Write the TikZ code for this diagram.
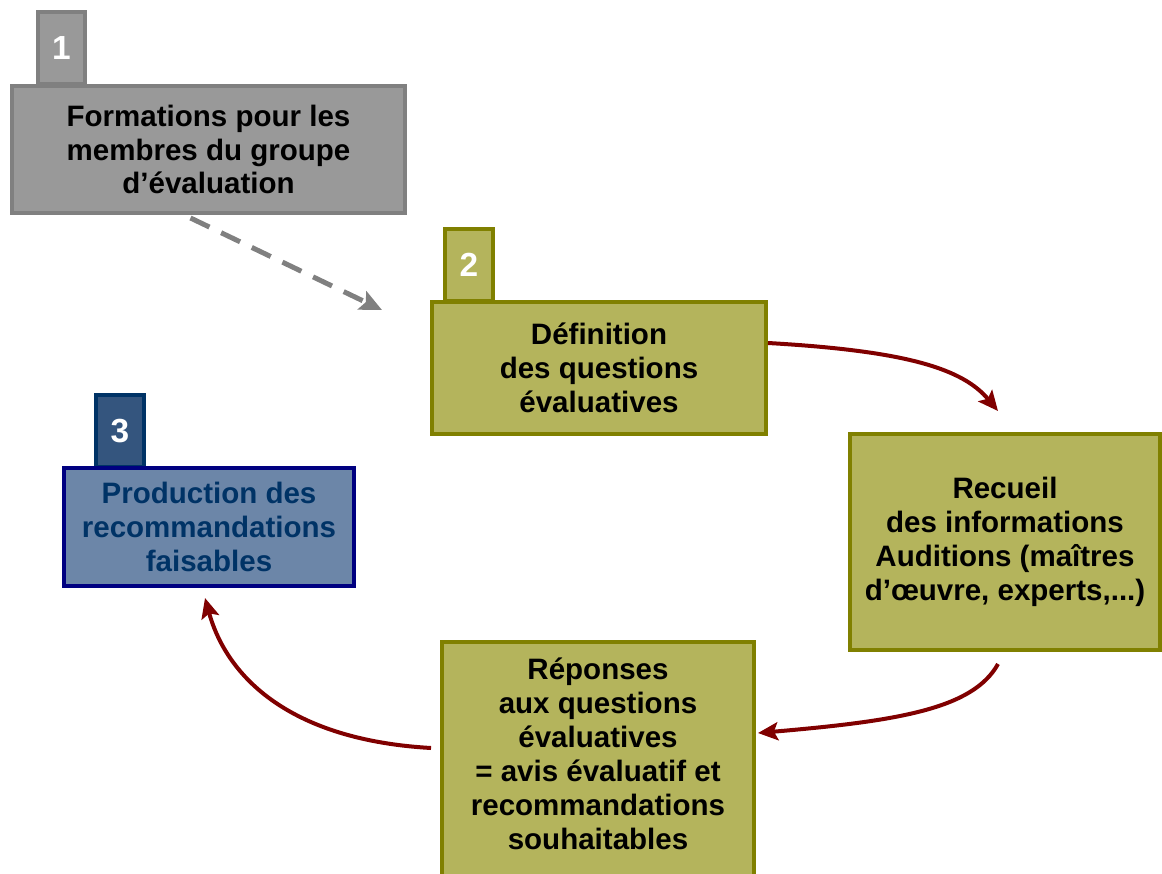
\documentclass[tikz,border=0pt]{standalone}
\usepackage{fontspec}
\setmainfont{Liberation Sans}
\usepackage{tikz}
\usepackage{xcolor}
\usetikzlibrary{arrows.meta}
\usetikzlibrary{positioning}

\definecolor{grayfill}{HTML}{999999}
\definecolor{grayline}{HTML}{808080}
\definecolor{olivefill}{HTML}{B4B45C}
\definecolor{oliveline}{HTML}{808000}
\definecolor{bluefill}{HTML}{6C86A8}
\definecolor{bluetab}{HTML}{34557E}
\definecolor{blueline}{HTML}{000080}
\definecolor{bluetext}{HTML}{003366}
\definecolor{flowred}{HTML}{800000}

\newcommand{\boxfont}{\fontsize{16.8}{19.3}\selectfont\bfseries}
\newcommand{\tabfont}{\fontsize{19}{20}\selectfont\bfseries}

\tikzset{
    stepbox/.style={draw, line width=0.08cm, align=center, inner sep=0pt, font=\boxfont},
    tabbox/.style={draw, line width=0.08cm, inner sep=0pt, text=white, font=\tabfont,
        minimum width=0.96cm, minimum height=1.44cm},
    flow/.style={draw=flowred, line width=0.08cm,
        -{Stealth[length=0.4cm, width=0.36cm, inset=0.08cm]}},
    dashflow/.style={draw=grayline, line width=0.1cm, dash pattern=on 0.42cm off 0.26cm,
        -{Stealth[length=0.44cm, width=0.4cm, inset=0.08cm]}}
}

\begin{document}
\begin{tikzpicture}[x=0.02cm, y=-0.02cm]
    \useasboundingbox (0,0) rectangle (1162,874);

    % step 1
    \node[tabbox, fill=grayfill, draw=grayline] (tab1) at (61.5,48) {1};
    \node[stepbox, fill=grayfill, draw=grayline, minimum width=7.86cm, minimum height=2.54cm]
        (box1) at (208.5,149.5) {Formations pour les\\membres du groupe\\d'évaluation};

    % step 2
    \node[tabbox, fill=olivefill, draw=oliveline] (tab2) at (469,265) {2};
    \node[stepbox, fill=olivefill, draw=oliveline, minimum width=6.68cm, minimum height=2.64cm]
        (box2) at (599,368) {Définition\\des questions\\évaluatives};

    % step 3
    \node[tabbox, fill=bluetab, draw=bluetext] (tab3) at (120,431) {3};
    \node[stepbox, fill=bluefill, draw=blueline, text=bluetext, minimum width=5.8cm, minimum height=2.36cm]
        (box3) at (209,527) {Production des\\recommandations\\faisables};

    % collecting and answers
    \node[stepbox, fill=olivefill, draw=oliveline, minimum width=6.2cm, minimum height=4.32cm]
        (box4) at (1005,542) {Recueil\\des informations\\Auditions (maîtres\\d'œuvre, experts,...)};
    \node[stepbox, fill=olivefill, draw=oliveline, minimum width=6.24cm, minimum height=4.96cm]
        (box5) at (598,766) {};
    \node[align=center, font=\boxfont] (box5text) at (598,754)
        {Réponses\\aux questions\\évaluatives\\= avis évaluatif et\\recommandations\\souhaitables};

    % connectors
    \coordinate (dashEnd) at (382,310);
    \draw[dashflow] ([xshift=-0.36cm, yshift=-0.06cm]box1.south) -- (dashEnd);
    \draw[flow] ([yshift=0.5cm]box2.east) .. controls +(140,8) and +(-35,-42)
        .. ([xshift=-0.14cm, yshift=0.42cm]box4.north);
    \draw[flow] ([xshift=-0.14cm, yshift=-0.24cm]box4.south) .. controls +(-25,45) and +(140,-12)
        .. ([xshift=0.04cm, yshift=0.66cm]box5.east);
    \draw[flow] ([xshift=-0.18cm, yshift=0.36cm]box5.west) .. controls +(-140,-8) and +(22,80)
        .. ([xshift=-0.08cm, yshift=-0.2cm]box3.south);
\end{tikzpicture}
\end{document}
